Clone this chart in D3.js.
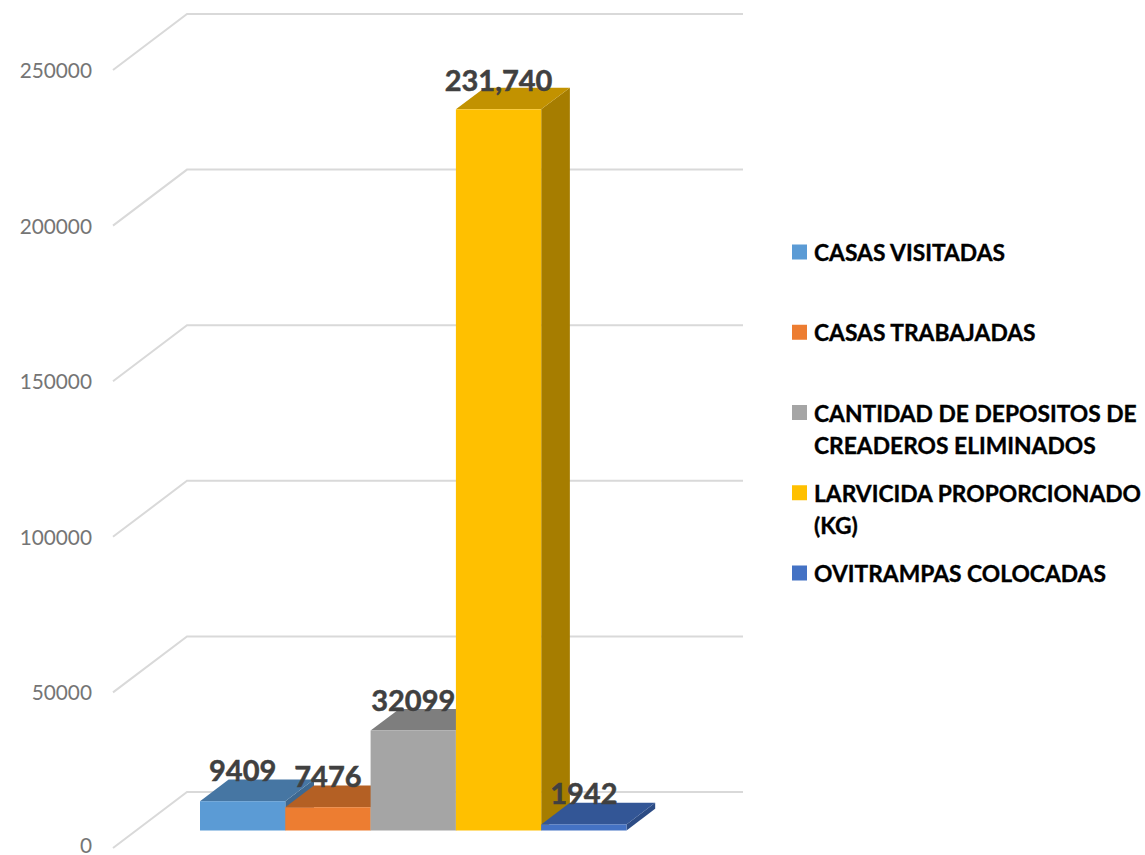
<!DOCTYPE html>
<html><head><meta charset="utf-8">
<script src="https://cdn.jsdelivr.net/npm/d3@7"></script>
<style>html,body{margin:0;padding:0;background:#fff;overflow:hidden}svg{display:block}</style>
</head><body><svg id="c" width="1145" height="855"></svg>
<script>
const series = ["CASAS VISITADAS","CASAS TRABAJADAS","CANTIDAD DE DEPOSITOS DE CREADEROS ELIMINADOS","LARVICIDA PROPORCIONADO (KG)","OVITRAMPAS COLOCADAS"];
const values = [9409,7476,32099,231740,1942];
const valueLabels = ["9409","7476","32099","231,740","1942"];
const frontColors = ["#5b9bd5","#ed7d31","#a5a5a5","#ffc000","#4472c4"];
const topColors = ["#4676a3","#b46024","#7e7e7e","#c29200","#335696"];
const sideColors = ["#3e6890","#a0551f","#707070","#a67d00","#2d4c85"];
const legendLines = [["CASAS VISITADAS"],["CASAS TRABAJADAS"],["CANTIDAD DE DEPOSITOS DE","CREADEROS ELIMINADOS"],["LARVICIDA PROPORCIONADO","(KG)"],["OVITRAMPAS COLOCADAS"]];
const ticks = [0,50000,100000,150000,200000,250000];

const svg = d3.select("#c");
const font = "Lato, 'Open Sans', sans-serif";
const h = d3.scaleLinear().domain([0,250000]).range([0,778]);
const x = d3.scaleBand().domain(series).range([200,626.5]);
const depth = {x:d3.scaleLinear().domain([0,1]).range([113,187]), y:d3.scaleLinear().domain([0,1]).range([848,792])};
const barFront = 0.3125, barBack = 0.70;
const px = (d)=>depth.x(d)-depth.x(0), py=(d)=>depth.y(d);
const gridRight = 743;

const g = svg.append("g");
g.selectAll("path.grid").data(ticks).join("path")
  .attr("fill","none").attr("stroke","#d9d9d9").attr("stroke-width",2)
  .attr("d",t=>d3.line()([[depth.x(0),depth.y(0)-h(t)],[depth.x(1),depth.y(1)-h(t)],[gridRight,depth.y(1)-h(t)]]));

svg.selectAll("text.tick").data(ticks).join("text")
  .attr("x",92).attr("y",t=>Math.min(depth.y(0)-h(t)+8,852.5)).attr("text-anchor","end")
  .attr("font-family",font).attr("font-size",20.8).attr("fill","#757575").text(t=>t);

const baseY = py(barFront);
const dx = px(barBack)-px(barFront), dy = py(barFront)-py(barBack);
const bars = svg.selectAll("g.bar").data(series.map((s,i)=>({s,i,v:values[i]}))).join("g");
const line = d3.line();
bars.append("path").attr("fill",d=>sideColors[d.i]).attr("d",d=>{
  const r=x(d.s)+x.bandwidth(), t=baseY-h(d.v);
  return line([[r,baseY],[r,t],[r+dx,t-dy],[r+dx,baseY-dy]])+"Z";});
bars.append("path").attr("fill",d=>topColors[d.i]).attr("d",d=>{
  const l=x(d.s), r=l+x.bandwidth(), t=baseY-h(d.v);
  return line([[l,t],[r,t],[r+dx,t-dy],[l+dx,t-dy]])+"Z";});
bars.append("rect").attr("fill",d=>frontColors[d.i])
  .attr("x",d=>x(d.s)).attr("width",x.bandwidth())
  .attr("y",d=>baseY-h(d.v)).attr("height",d=>h(d.v));

bars.append("text").attr("x",d=>x(d.s)+x.bandwidth()/2).attr("y",d=>baseY-h(d.v)-(d.v>100000?18:20))
  .attr("text-anchor","middle").attr("font-family",font).attr("font-weight",700)
  .attr("font-size",29).attr("fill","#404040").attr("stroke","#404040").attr("stroke-width",0.5).text(d=>valueLabels[d.i]);

const legendY = d3.scalePoint().domain(series).range([252,573]);
const leg = svg.selectAll("g.leg").data(series.map((s,i)=>({s,i}))).join("g")
  .attr("transform",d=>`translate(0,${legendY(d.s)})`);
leg.append("rect").attr("x",792).attr("y",-7.5).attr("width",15).attr("height",15).attr("fill",d=>frontColors[d.i]);
leg.each(function(d){
  d3.select(this).selectAll("text").data(legendLines[d.i]).join("text")
    .attr("x",814).attr("y",(l,j)=>9+j*32.5)
    .attr("font-family",font).attr("font-weight",700).attr("font-size",22.8).attr("fill","#000")
    .attr("stroke","#000").attr("stroke-width",0.35).text(l=>l);
});
</script></body></html>
